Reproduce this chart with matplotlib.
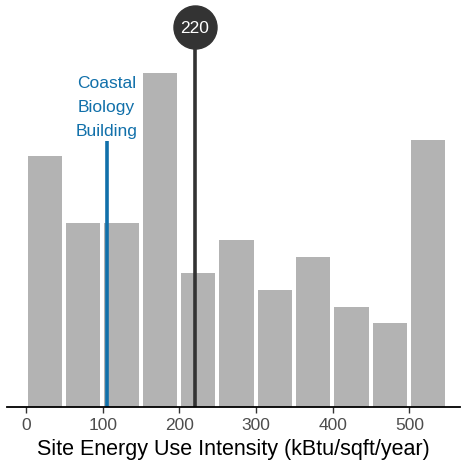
import numpy as np
import matplotlib
matplotlib.use("Agg")
import matplotlib.pyplot as plt

plt.rcParams['font.family'] = ['Liberation Sans', 'DejaVu Sans']

# histogram bins (kBtu/sqft/year) and building counts
bin_starts = [0, 50, 100, 150, 200, 250, 300, 350, 400, 450, 500]
counts = [15, 11, 11, 20, 8, 10, 7, 9, 6, 5, 16]
building_eui = 105
building_name = "Coastal\nBiology\nBuilding"
median_eui = 220
ticks = [0, 100, 200, 300, 400, 500]

fig = plt.figure(figsize=(4.63, 4.64), dpi=100)
ax = fig.add_axes([7 / 463, 56 / 464, 453 / 463, 408 / 464])

ax.bar(np.array(bin_starts) + 2, counts, width=45, align='edge', color='#b3b3b3')

# building line and label
ax.plot([building_eui, building_eui], [0, 15.9], color='#1170aa', lw=2.6, solid_capstyle='butt')
ax.text(building_eui, 16.1, building_name, color='#1170aa', fontsize=12.5, ha='center', va='bottom',
        linespacing=1.75)

# median marker
ax.plot([median_eui, median_eui], [0, 22.75], color='#333333', lw=2.6, solid_capstyle='butt')
ax.scatter([median_eui], [22.75], s=960, color='#333333', zorder=5)
ax.text(median_eui, 22.75, str(median_eui), color='white', fontsize=12.5, ha='center', va='center', zorder=6)

ax.set_xlim(-24.8, 566)
ax.set_ylim(0, 24.43)
ax.set_xticks(ticks)
ax.set_xticklabels([str(t) for t in ticks], color='#4d4d4d', fontsize=12.5)
ax.set_yticks([])
ax.tick_params(axis='x', length=4, width=1, color='#333333', pad=3.5)
for s in ['left', 'right', 'top']:
    ax.spines[s].set_visible(False)
ax.spines['bottom'].set_linewidth(1.3)
ax.set_xlabel('Site Energy Use Intensity (kBtu/sqft/year)', fontsize=15.5, color='black', labelpad=4)

fig.savefig('out.png', dpi=100)
